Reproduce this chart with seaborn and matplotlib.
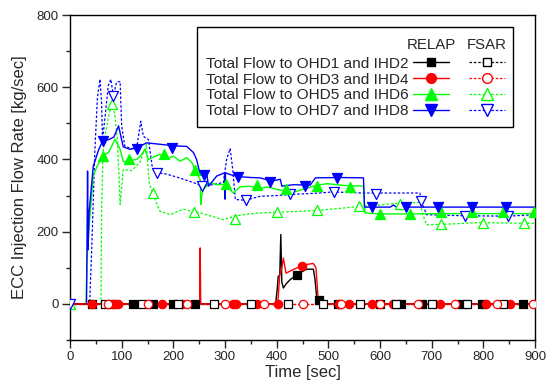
import numpy as np
import pandas as pd
import matplotlib
matplotlib.use("Agg")
import matplotlib.pyplot as plt
import seaborn as sns
from matplotlib.lines import Line2D
from matplotlib.ticker import MultipleLocator

# ---------------- data ----------------
# RELAP OHD1/IHD2 (black, filled squares)
r1_t = [0, 398, 401, 403, 406, 408, 410, 413, 418, 426, 439, 458, 471, 474, 478, 481, 900]
r1_y = [0, 0, 40, 76, 80, 192, 60, 44, 55, 67, 81, 96, 96, 70, 11, 0, 0]
r1_mt = [42, 84, 121, 160, 200, 241, 439, 481, 519, 600, 641, 681, 758, 797, 877]
r1_my = [0, 0, 0, 0, 0, 0, 81, 11, 0, 0, 0, 0, 0, 0, 0]
# RELAP OHD3/IHD4 (red, filled circles)
r3_t = [0, 251, 252, 253, 402, 406, 410, 413, 418, 425, 432, 449, 462, 471, 476, 479, 481, 900]
r3_y = [0, 0, 155, 0, 0, 80, 100, 127, 85, 90, 95, 106, 110, 112, 100, 40, 0, 0]
r3_mt = [42, 84, 92, 179, 216, 316, 322, 361, 403, 449, 521, 540, 584, 625, 716, 806, 851]
r3_my = [0, 0, 0, 0, 0, 0, 0, 0, 0, 106, 0, 0, 0, 0, 0, 0, 0]
# RELAP OHD5/IHD6 (green, filled up-triangles)
r5_t = [0, 31, 33, 36, 45, 52, 63, 75, 87, 97, 103, 110, 120, 129, 138, 145, 152, 163, 174, 187,
        200, 213, 226, 236, 245, 252, 253, 255, 258, 271, 285, 297, 303, 316, 329, 348, 365, 381,
        407, 432, 452, 471, 497, 530, 568, 571, 600, 659, 719, 839, 900]
r5_y = [0, 0, 120, 196, 354, 380, 409, 420, 456, 428, 395, 391, 398, 400, 412, 428, 400, 408, 414, 402,
        409, 395, 405, 391, 363, 344, 275, 300, 317, 335, 330, 331, 326, 307, 324, 326, 318, 324,
        315, 309, 318, 326, 333, 328, 326, 252, 249, 249, 250, 250, 250]
r5_mt = [63, 115, 181, 241, 301, 361, 419, 479, 541, 600, 659, 719, 779, 839, 898]
r5_my = [409, 400, 414, 372, 332, 328, 318, 326, 323, 249, 249, 254, 254, 254, 254]
# RELAP OHD7/IHD8 (blue, filled down-triangles)
r7_t = [0, 32, 34, 35, 37, 45, 55, 63, 75, 85, 94, 103, 116, 130, 148, 174, 200, 226, 239, 245,
        252, 265, 268, 284, 299, 300, 301, 310, 330, 350, 368, 390, 407, 410, 432, 465, 475, 520,
        568, 570, 620, 626, 632, 700, 900]
r7_y = [0, 0, 368, 150, 253, 381, 425, 451, 455, 462, 493, 435, 428, 432, 446, 442, 438, 436, 419, 400,
        358, 358, 326, 354, 363, 290, 363, 358, 352, 350, 349, 340, 345, 326, 330, 329, 349, 350,
        349, 268, 268, 274, 268, 268, 268]
r7_mt = [63, 129, 197, 260, 326, 388, 455, 517, 584, 650, 713, 779, 844]
r7_my = [451, 428, 432, 356, 352, 337, 326, 349, 268, 268, 268, 268, 268]
# FSAR OHD1/IHD2 and OHD3/IHD4 (zero flow)
f1_t = [0, 900]
f1_y = [0, 0]
f1_mt = [68, 139, 209, 279, 350, 422, 490, 561, 630, 700, 769, 839]
f3_t = [0, 900]
f3_y = [0, 0]
f3_mt = [74, 150, 226, 300, 375, 450, 525, 600, 674, 745, 826, 897]
# FSAR OHD5/IHD6 (green dashed, open up-triangles)
f5_t = [0, 60, 61, 64, 68, 75, 81, 87, 92, 97, 103, 119, 135, 148, 153, 160, 167, 174, 194, 219,
        252, 297, 316, 340, 368, 400, 440, 479, 520, 559, 600, 626, 677, 684, 690, 750, 787, 900]
f5_y = [0, 0, 250, 420, 470, 520, 562, 520, 450, 275, 372, 369, 391, 442, 336, 307, 280, 257, 247, 262,
        252, 233, 242, 248, 252, 254, 256, 259, 264, 270, 274, 278, 281, 243, 219, 222, 225, 223]
f5_mt = [0, 81, 160, 240, 319, 400, 479, 559, 639, 719, 799, 879]
f5_my = [0, 553, 307, 254, 236, 254, 259, 270, 278, 222, 225, 225]
# FSAR OHD7/IHD8 (blue dashed, open down-triangles)
f7_t = [0, 38, 42, 48, 53, 58, 61, 63, 68, 74, 79, 84, 90, 97, 100, 106, 118, 129, 137, 142,
        152, 159, 169, 185, 200, 220, 239, 255, 275, 297, 303, 310, 315, 320, 340, 368, 400, 426,
        470, 510, 568, 677, 684, 690, 765, 848, 900]
f7_y = [0, 0, 150, 420, 570, 622, 560, 455, 520, 604, 622, 576, 614, 616, 493, 437, 430, 432, 506, 464,
        455, 381, 363, 360, 354, 345, 336, 326, 330, 336, 400, 430, 372, 289, 287, 298, 300, 303,
        306, 310, 307, 307, 270, 247, 244, 243, 247]
f7_mt = [0, 84, 169, 255, 340, 425, 510, 593, 679, 765, 848]
f7_my = [0, 576, 363, 326, 287, 303, 310, 305, 286, 244, 243]

labels = ["Total Flow to OHD1 and IHD2", "Total Flow to OHD3 and IHD4",
          "Total Flow to OHD5 and IHD6", "Total Flow to OHD7 and IHD8"]
colors = ["#000000", "#FF0000", "#00FF00", "#0000FF"]
markers = ["s", "o", "^", "v"]

# ---------------- style ----------------
sns.set_style("ticks")
plt.rcParams['font.family'] = ['Liberation Sans', 'DejaVu Sans']
plt.rcParams['axes.linewidth'] = 1.0

fig = plt.figure(figsize=(5.52, 3.87), dpi=100)
ax = fig.add_axes([70/552, 1-340/387, 465/552, 325/387])

relap = [(r1_t, r1_y, r1_mt, r1_my), (r3_t, r3_y, r3_mt, r3_my),
         (r5_t, r5_y, r5_mt, r5_my), (r7_t, r7_y, r7_mt, r7_my)]
fsar = [(f1_t, f1_y, f1_mt, [0] * len(f1_mt)), (f3_t, f3_y, f3_mt, [0] * len(f3_mt)),
        (f5_t, f5_y, f5_mt, f5_my), (f7_t, f7_y, f7_mt, f7_my)]
msz = [30, 36, 52, 52]
dash = (0, (2, 1.5))

def draw(series, i, filled):
    t, y, mt, my = series
    df = pd.DataFrame({"t": t, "y": y})
    sns.lineplot(data=df, x="t", y="y", ax=ax, estimator=None, sort=False,
                 color=colors[i], lw=1.0 if filled else 0.9,
                 linestyle="-" if filled else dash, zorder=2)
    dm = pd.DataFrame({"t": mt, "y": my})
    sns.scatterplot(data=dm, x="t", y="y", ax=ax, marker=markers[i], s=msz[i],
                    color=colors[i] if filled else "white", edgecolor=colors[i],
                    linewidth=0.9, zorder=3)

for i in [2, 3]:
    draw(fsar[i], i, False)
for i in [2, 3]:
    draw(relap[i], i, True)
for i in [0, 1]:
    draw(relap[i], i, True)
for i in [0, 1]:
    draw(fsar[i], i, False)

ax.set_xlim(0, 900)
ax.set_ylim(-100, 800)
ax.set_xticks(np.arange(0, 901, 100))
ax.set_yticks(np.arange(0, 801, 200))
ax.xaxis.set_minor_locator(MultipleLocator(50))
ax.yaxis.set_minor_locator(MultipleLocator(100))
ax.tick_params(which="major", direction="out", length=6, width=1, labelsize=9.5, pad=2)
ax.tick_params(which="minor", direction="out", length=3, width=1)
for s in ax.spines.values():
    s.set_visible(True)
    s.set_color("black")
ax.set_xlabel("Time [sec]", fontsize=12, labelpad=1)
ax.set_ylabel("ECC Injection Flow Rate [kg/sec]", fontsize=12, labelpad=7)

# legend: labels left of handles, RELAP column and FSAR column
h_r = [Line2D([], [], color=colors[i], lw=1.0, marker=markers[i], markersize=[6, 7, 8, 8][i],
              markerfacecolor=colors[i], markeredgecolor=colors[i]) for i in range(4)]
h_f = [Line2D([], [], color=colors[i], lw=0.9, linestyle=dash, marker=markers[i],
              markersize=[6, 7, 8, 8][i], markerfacecolor="white", markeredgecolor=colors[i])
       for i in range(4)]
leg = ax.legend(h_r + h_f, labels + [""] * 4, ncol=2, markerfirst=False,
                loc="upper right", bbox_to_anchor=(0.953, 0.962), borderaxespad=0,
                fontsize=11.1, frameon=True, fancybox=False, edgecolor="black",
                framealpha=1, handlelength=2.3, handletextpad=0.33, columnspacing=1.0,
                labelspacing=0.12, borderpad=0.55,
                title=" ", title_fontsize=15)
leg.get_frame().set_linewidth(1.0)

# column headers centred over the handle columns
fig.canvas.draw()
rend = fig.canvas.get_renderer()
inv = fig.transFigure.inverted()
ttl = leg.get_title().get_window_extent(rend)
hy = (ttl.y0 + ttl.y1) / 2
for idx, name in [(0, "RELAP"), (4, "FSAR")]:
    bb = leg.legend_handles[idx].get_window_extent(rend)
    cx = (bb.x0 + bb.x1) / 2
    fx, fy = inv.transform((cx, hy))
    fig.text(fx, fy, name, ha="center", va="center", fontsize=10.8)

fig.savefig("out.png", dpi=100)
